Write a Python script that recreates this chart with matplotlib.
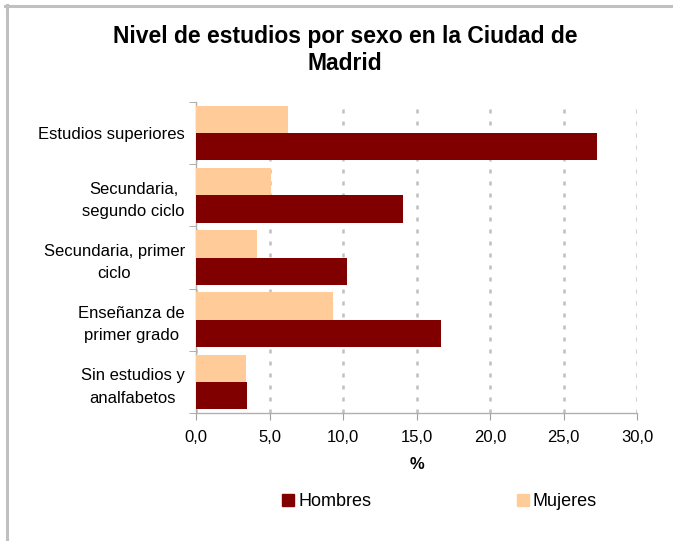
import numpy as np
import matplotlib.pyplot as plt
from matplotlib.lines import Line2D
from matplotlib.patches import Rectangle

plt.rcParams['font.family'] = ['Liberation Sans', 'DejaVu Sans']

# Data (percent)
categorias = ['Estudios superiores', 'Secundaria,\nsegundo ciclo', 'Secundaria, primer\nciclo',
              'Enseñanza de\nprimer grado', 'Sin estudios y\nanalfabetos']
hombres = [27.3, 14.1, 10.3, 16.7, 3.5]
mujeres = [6.25, 5.1, 4.15, 9.3, 3.4]
xticks = [0, 5, 10, 15, 20, 25, 30]

c_h = '#800000'
c_m = '#ffcc99'
gris = '#c0c0c0'

fig = plt.figure(figsize=(6.73, 5.41), dpi=100)
ax = fig.add_axes([196/673, 1 - 413/541, 441/673, 311/541])

y = np.arange(len(categorias))
h = 0.44
ax.barh(y - h/2, mujeres, height=h, color=c_m, zorder=3)
ax.barh(y + h/2, hombres, height=h, color=c_h, zorder=3)

ax.set_xlim(0, 30)
ax.set_ylim(len(categorias) - 0.5, -0.5)
ax.set_xticks(xticks)
ax.set_xticklabels([f'{v:.1f}'.replace('.', ',') for v in xticks], fontsize=12)
ax.set_yticks(y)
ax.set_yticklabels(categorias, fontsize=12, multialignment='center', linespacing=1.6)
ax.tick_params(axis='y', length=0, pad=8)
ax.set_yticks(np.arange(-0.5, len(categorias)), minor=True)
ax.tick_params(axis='y', which='minor', length=5, color='#a0a0a0', direction='out')
ax.tick_params(axis='x', length=5, color='#a0a0a0', pad=7)

ax.grid(axis='x', color=gris, linewidth=1.8, linestyle=(0, (1.6, 3.2)), zorder=0)
for s in ['top', 'right']:
    ax.spines[s].set_visible(False)
for s in ['left', 'bottom']:
    ax.spines[s].set_color('#b0b0b0')
    ax.spines[s].set_linewidth(1)

ax.set_xlabel('%', fontsize=12, fontweight='bold', labelpad=9)

fig.text(345/673, 1 - 50/541, 'Nivel de estudios por sexo en la Ciudad de\nMadrid',
         ha='center', va='center', fontsize=16.5, fontweight='bold', linespacing=1.25)

# legend
for x0, col, lab in [(282, c_h, 'Hombres'), (517, c_m, 'Mujeres')]:
    fig.add_artist(Rectangle((x0/673, 1 - 506/541), 12/673, 12/541, color=col,
                             transform=fig.transFigure))
    fig.text((x0 + 16)/673, 1 - 500/541, lab, fontsize=13, ha='left',
             va='center_baseline')

# chart frame (top and left edges visible)
fig.add_artist(Line2D([5/673, 1], [1 - 5.8/541, 1 - 5.8/541], color=gris, lw=2.2,
                      transform=fig.transFigure))
fig.add_artist(Line2D([6.7/673, 6.7/673], [0, 1 - 5/541], color=gris, lw=2.2,
                      transform=fig.transFigure))

fig.savefig('out.png', dpi=100)
